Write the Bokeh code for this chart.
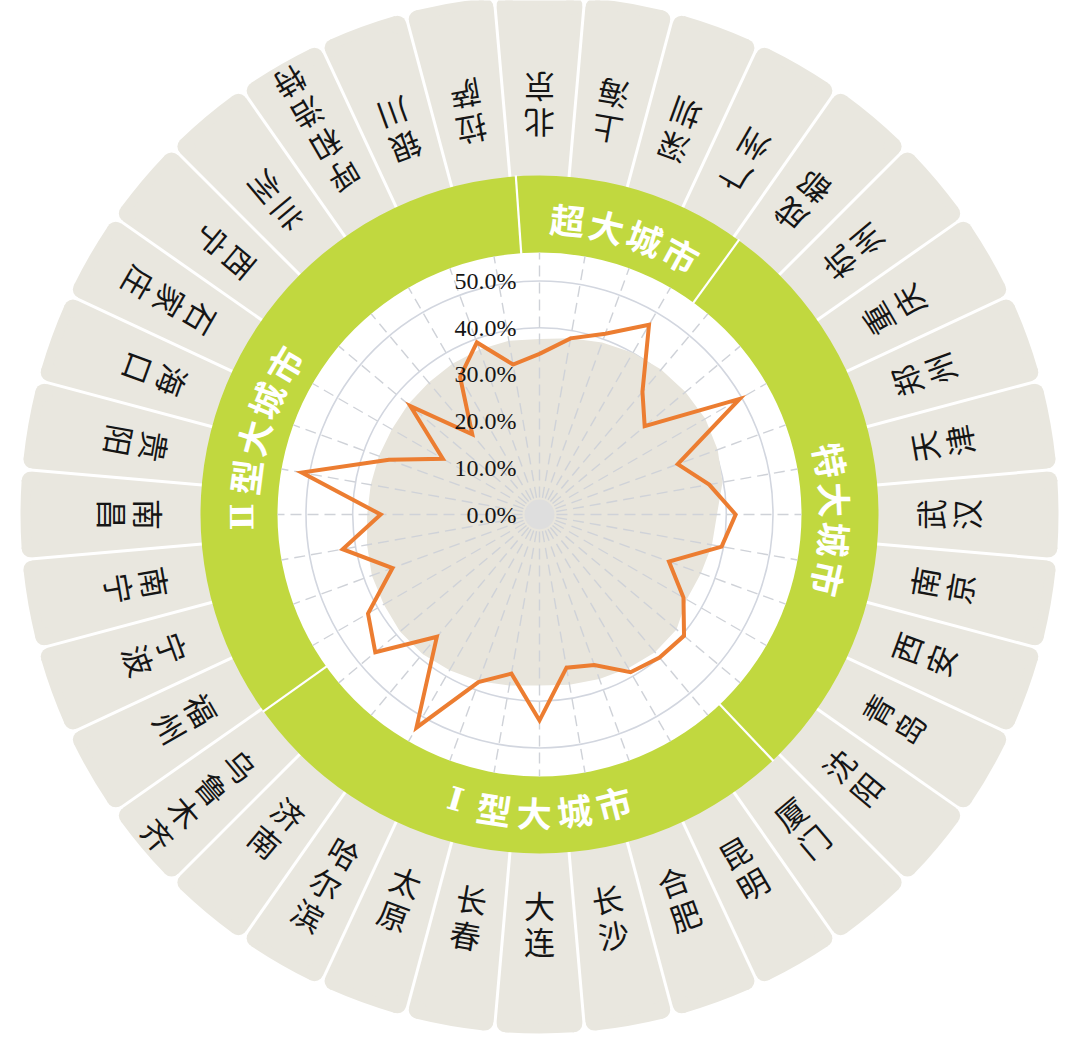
import numpy as np
from bokeh.plotting import figure
from bokeh.models import Range1d
from bokeh.embed import file_html
from bokeh.resources import INLINE
from bokeh.core.properties import value

# ---------------- data ----------------
cities = ["北京", "上海", "深圳", "广州", "成都", "杭州", "重庆", "郑州", "天津",
          "武汉", "南京", "西安", "青岛", "沈阳", "厦门", "昆明", "合肥", "长沙",
          "大连", "长春", "太原", "哈尔滨", "济南", "乌鲁木齐", "福州", "宁波",
          "南宁", "南昌", "贵阳", "海口", "石家庄", "西宁", "兰州", "呼和浩特",
          "银川", "拉萨"]
ratio = [34.4, 38.3, 41.2, 46.9, 34.3, 29.4, 49.5, 31.5, 36.9,
         42.0, 39.6, 29.5, 35.6, 40.4, 40.0, 39.0, 34.3, 33.3,
         44.1, 34.6, 38.2, 52.7, 34.2, 45.9, 42.4, 33.5,
         42.8, 34.0, 51.7, 34.3, 23.9, 36.1, 22.4, 34.0,
         39.2, 32.6]
reference = [37.6, 38.3, 39.2, 40.0, 40.5, 40.8, 41.0, 40.6, 39.8,
             38.0, 37.5, 36.8, 36.4, 38.3, 38.5, 38.0, 37.5, 37.0,
             36.6, 37.2, 38.0, 38.5, 39.0, 39.0, 38.5, 38.2,
             37.5, 36.9, 36.7, 36.6, 36.5, 36.7, 36.9, 37.3,
             37.6, 37.8]
tick_values = [0, 10, 20, 30, 40, 50]
tick_labels = ["0.0%", "10.0%", "20.0%", "30.0%", "40.0%", "50.0%"]
group_names = ["超大城市", "特大城市", "Ⅰ型大城市", "Ⅱ型大城市"]

# ---------------- layout / style ----------------
W, H = 1078, 1037
CX, CY = 539, 514            # centre, in canvas pixels from top-left
PX_PER_PCT = 4.67            # radial scale
R_WHITE = 262                # inner edge of green ring
R_GREEN = 339                # outer edge of green ring
R_LAB0, LAB_STEP = 390, 36   # first character radius, character pitch
R_OUT, RC, GAP = 519, 9, 3   # label tiles
group_edges_deg = [-4, 36, 136.5, 234.5]
group_mid_deg = [17, 91, 181, 285]
group_inward = [False, False, True, False]
R_GROUP, GROUP_PITCH = 297, 40

GREEN = "#c1d83f"
TILE = "#e9e7df"
AREA = "#e8e5dc"
ORANGE = "#ec7d31"
GRID = "#d2d6df"
SPOKE = "#cfd2d8"
INK = "#151515"

n = len(cities)
theta = np.arange(n) * 360.0 / n          # clockwise from top
half = 180.0 / n


def pol(r, th_deg):
    t = np.radians(th_deg)
    return np.asarray(r) * np.sin(t), np.asarray(r) * np.cos(t)


def bang(th_deg):
    return np.radians(90.0 - np.asarray(th_deg))


p = figure(width=W, height=H, x_range=Range1d(-CX, W - CX),
           y_range=Range1d(-(H - CY), CY), output_backend="svg",
           toolbar_location=None, min_border=0,
           x_axis_location=None, y_axis_location=None)
p.grid.visible = False
p.outline_line_color = None
p.background_fill_color = "white"
p.border_fill_color = "white"

# ---- label tiles with rounded outer corners ----
zeros = np.zeros(n)
p.annular_wedge(x=zeros, y=zeros, inner_radius=R_GREEN - 4, outer_radius=R_OUT - RC,
                start_angle=bang(theta + half), end_angle=bang(theta - half),
                fill_color=TILE, line_color=None)
d_in = np.degrees((GAP / 2 + RC) / (R_OUT - RC))
p.annular_wedge(x=zeros, y=zeros, inner_radius=R_OUT - RC - 1, outer_radius=R_OUT,
                start_angle=bang(theta + half - d_in), end_angle=bang(theta - half + d_in),
                fill_color=TILE, line_color=None)
cth = np.concatenate([theta + half - d_in, theta - half + d_in])
ccx, ccy = pol(R_OUT - RC, cth)
p.circle(x=ccx, y=ccy, radius=RC, fill_color=TILE, line_color=None)
gx0, gy0 = pol(R_GREEN - 6, theta + half)
gx1, gy1 = pol(R_OUT + 6, theta + half)
p.segment(x0=gx0, y0=gy0, x1=gx1, y1=gy1, line_color="white", line_width=GAP)

# ---- green ring ----
p.annulus(x=0, y=0, inner_radius=R_WHITE, outer_radius=R_GREEN,
          fill_color=GREEN, line_color=None)
sx0, sy0 = pol(R_WHITE - 1, np.array(group_edges_deg))
sx1, sy1 = pol(R_GREEN + 1, np.array(group_edges_deg))
p.segment(x0=sx0, y0=sy0, x1=sx1, y1=sy1, line_color="white", line_width=2.2)

# ---- grid rings ----
ring_r = np.array(tick_values[1:]) * PX_PER_PCT
p.circle(x=np.zeros(len(ring_r)), y=np.zeros(len(ring_r)), radius=ring_r,
         fill_color=None, line_color=GRID, line_width=1.6)

# ---- reference area ----
ax, ay = pol(np.array(reference) * PX_PER_PCT, theta)
p.patch(x=ax, y=ay, fill_color=AREA, line_color=None)

# ---- spokes ----
kx, ky = pol(R_WHITE, theta)
p.segment(x0=zeros, y0=zeros, x1=kx, y1=ky, line_color=SPOKE, line_width=1.4,
          line_dash="11 6")

# ---- centre dot ----
p.circle(x=[0], y=[0], radius=15, fill_color="#dedede", line_color=None)

# ---- data line ----
lx, ly = pol(np.array(ratio) * PX_PER_PCT, theta)
p.line(x=np.append(lx, lx[0]), y=np.append(ly, ly[0]), line_color=ORANGE,
       line_width=4, line_join="miter")

# ---- radial tick labels ----
p.text(x=[-23] * len(tick_values), y=np.array(tick_values) * PX_PER_PCT,
       text=tick_labels, text_font=value("Liberation Serif"),
       text_font_size="24px", text_align="right", text_baseline="middle",
       text_color=INK)

# ---- city labels (characters stacked outward) ----
cx_, cy_, ct, ca = [], [], [], []
for i, name in enumerate(cities):
    for j, ch in enumerate(name):
        x, y = pol(R_LAB0 + LAB_STEP * j, theta[i])
        cx_.append(float(x)); cy_.append(float(y)); ct.append(ch)
        ca.append(float(np.radians(180.0 - theta[i])))
p.text(x=cx_, y=cy_, text=ct, angle=ca, text_font=value("Noto Sans CJK SC"),
       text_font_size="31px", text_align="center", text_baseline="middle",
       text_color=INK)

# ---- group labels along the green ring ----
cjk = {"x": [], "y": [], "t": [], "a": []}
roman = {"x": [], "y": [], "t": [], "a": []}
dstep = np.degrees(GROUP_PITCH / R_GROUP)
for name, mid, inward in zip(group_names, group_mid_deg, group_inward):
    m = len(name)
    for k, ch in enumerate(name):
        off = (k - (m - 1) / 2) * dstep
        th = mid - off if inward else mid + off
        x, y = pol(R_GROUP, th)
        tgt = roman if ch in "ⅠⅡ" else cjk
        tgt["x"].append(float(x)); tgt["y"].append(float(y)); tgt["t"].append(ch)
        tgt["a"].append(float(np.radians(180.0 - th if inward else -th)))
p.text(x=cjk["x"], y=cjk["y"], text=cjk["t"], angle=cjk["a"],
       text_font=value("Noto Sans CJK SC"), text_font_size="35px",
       text_font_style="bold", text_align="center", text_baseline="middle",
       text_color="white")
p.text(x=roman["x"], y=roman["y"], text=roman["t"], angle=roman["a"],
       text_font=value("DejaVu Serif"), text_font_size="32px",
       text_font_style="bold", text_align="center", text_baseline="middle",
       text_color="white")

open("out.html", "w").write(file_html(p, INLINE))
